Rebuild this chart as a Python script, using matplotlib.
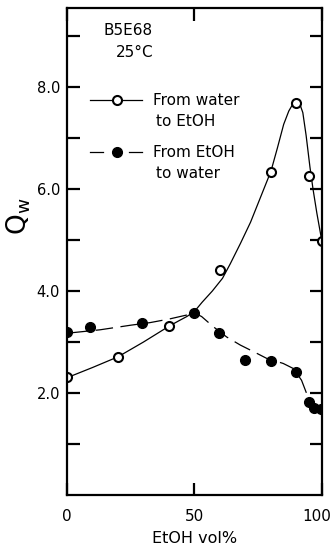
import numpy as np
import matplotlib
matplotlib.use('Agg')
import matplotlib.pyplot as plt
from matplotlib.transforms import ScaledTranslation

# measured points, water -> EtOH (open circles)
water_x = [0, 20, 40, 60, 80, 90, 95, 100]
water_y = [2.31, 2.70, 3.32, 4.42, 6.33, 7.69, 6.25, 4.98]

# measured points, EtOH -> water (filled circles)
etoh_x = [0, 9, 29.5, 50, 59.5, 70, 80, 90, 95, 97, 99.5]
etoh_y = [3.20, 3.29, 3.38, 3.57, 3.17, 2.65, 2.63, 2.42, 1.83, 1.71, 1.69]

# hand drawn fit curves
water_curve_x = [0, 10, 20, 30, 40, 44, 47, 50, 53, 57, 61, 64, 68, 72, 76, 80, 82.5, 85,
                 87, 88.5, 90, 91.3, 92.5, 93.8, 95.3, 96.5, 98, 99, 100]
water_curve_y = [2.30, 2.50, 2.71, 3.00, 3.31, 3.42, 3.50, 3.60, 3.78, 4.00, 4.25, 4.53,
                 4.93, 5.35, 5.85, 6.35, 6.80, 7.27, 7.53, 7.66, 7.71, 7.67, 7.50, 7.05,
                 6.43, 6.00, 5.53, 5.25, 4.97]
etoh_curve_x = [1.5, 13, 25, 32.5, 40, 47, 50, 52.8, 57.4, 62.6, 68, 74.4, 78.3, 84.8,
                88.8, 92, 94, 95.5]
etoh_curve_y = [3.18, 3.24, 3.33, 3.38, 3.45, 3.53, 3.57, 3.50, 3.30, 3.10, 2.94, 2.78,
                2.68, 2.58, 2.48, 2.25, 1.99, 1.80]

fig = plt.figure(figsize=(3.35, 5.54), dpi=100)
ax = fig.add_axes([0.2, 0.1065, 0.761, 0.879])

dash = (0, (14, 6))
ax.plot(water_curve_x, water_curve_y, color='black', lw=0.9)
ax.plot(etoh_curve_x, etoh_curve_y, color='black', lw=0.9, linestyle=dash)
ax.plot(water_x, water_y, 'o', ms=6.5, mfc='white', mec='black', mew=1.5)
ax.plot(etoh_x, etoh_y, 'o', ms=7, mfc='black', mec='black')

ax.set_xlim(0, 100)
ax.set_ylim(0, 9.55)
ax.set_xticks([0, 50, 100])
ax.set_xticklabels(['0', '50', '100'])
ax.set_yticks([2, 4, 6, 8])
ax.set_yticklabels(['2.0', '4.0', '6.0', '8.0'])
ax.set_yticks([1, 3, 5, 7, 9], minor=True)
ax.tick_params(axis='both', which='both', direction='in', length=9, width=1.6,
               labelsize=10.5, right=True, top=True)
ax.tick_params(axis='x', pad=10, labelsize=11)
ax.tick_params(axis='y', pad=5)
for s in ax.spines.values():
    s.set_linewidth(1.6)

# pull "100" in a little so it stays on the page
last = ax.get_xticklabels()[-1]
last.set_transform(last.get_transform() + ScaledTranslation(-4 / 72, 0, fig.dpi_scale_trans))

ax.set_xlabel('EtOH vol%', fontsize=11.5, labelpad=5)
ax.set_ylabel(r'Q$_{\mathrm{w}}$', fontsize=19)
ax.yaxis.set_label_coords(-0.135, 0.573)

ax.text(0.142, 0.945, 'B5E68', transform=ax.transAxes, fontsize=11)
ax.text(0.19, 0.9, '25°C', transform=ax.transAxes, fontsize=11)

# key, drawn by hand like the original
tr = ax.transAxes
ax.plot([0.09, 0.294], [0.811, 0.811], transform=tr, color='black', lw=0.9, clip_on=False)
ax.plot([0.196], [0.811], 'o', transform=tr, ms=6.5, mfc='white', mec='black', mew=1.5,
        clip_on=False)
ax.plot([0.09, 0.142], [0.704, 0.704], transform=tr, color='black', lw=0.9, clip_on=False)
ax.plot([0.245, 0.294], [0.704, 0.704], transform=tr, color='black', lw=0.9, clip_on=False)
ax.plot([0.196], [0.704], 'o', transform=tr, ms=7, mfc='black', mec='black', clip_on=False)
ax.text(0.337, 0.811, 'From water', transform=tr, fontsize=11, va='center')
ax.text(0.35, 0.768, 'to EtOH', transform=tr, fontsize=11, va='center')
ax.text(0.337, 0.704, 'From EtOH', transform=tr, fontsize=11, va='center')
ax.text(0.35, 0.661, 'to water', transform=tr, fontsize=11, va='center')

fig.savefig('out.png', dpi=100)
